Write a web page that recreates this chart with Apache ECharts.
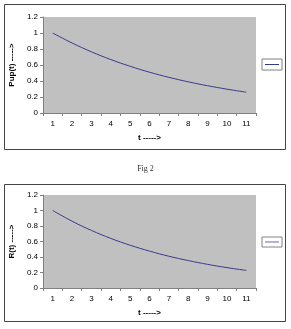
<!DOCTYPE html>
<html>
<head>
<meta charset="utf-8">
<script src="https://cdn.jsdelivr.net/npm/echarts@6/dist/echarts.min.js"></script>
<style>
  html, body { margin: 0; padding: 0; background: #fff; }
  #chart { width: 291px; height: 329px; }
</style>
</head>
<body>
<div id="chart"></div>
<script>
// data
const tLabels = ['1', '2', '3', '4', '5', '6', '7', '8', '9', '10', '11']
const pupValues = [1.0, 0.875, 0.765, 0.668, 0.584, 0.51, 0.446, 0.39, 0.341, 0.298, 0.26]
const rValues = [1.0, 0.862, 0.743, 0.64, 0.552, 0.476, 0.41, 0.354, 0.305, 0.263, 0.227]

const lineColor = '#3a3a8c'
const labelFont = { fontFamily: 'Liberation Sans', fontSize: 8, color: '#000' }
const axisGray = '#808080'

const makeX = (idx) => ({
  type: 'category',
  gridIndex: idx,
  data: tLabels,
  boundaryGap: true,
  name: 't ----->',
  nameLocation: 'middle',
  nameGap: 21,
  nameTextStyle: { fontFamily: 'Liberation Sans', fontSize: 8, fontWeight: 'bold', color: '#000' },
  axisLine: { lineStyle: { color: axisGray } },
  axisTick: { show: true, alignWithLabel: false, length: 3, lineStyle: { color: axisGray } },
  axisLabel: Object.assign({ margin: 7 }, labelFont),
  splitLine: { show: false }
})

const makeY = (idx, title) => ({
  type: 'value',
  gridIndex: idx,
  min: 0,
  max: 1.2,
  interval: 0.2,
  name: title,
  nameLocation: 'middle',
  nameGap: 22,
  nameTextStyle: { fontFamily: 'Liberation Sans', fontSize: 8, fontWeight: 'bold', color: '#000' },
  axisLine: { show: true, lineStyle: { color: axisGray } },
  axisTick: { show: true, length: 3, lineStyle: { color: axisGray } },
  axisLabel: Object.assign({ margin: 5, formatter: (v) => String(+v.toFixed(1)) }, labelFont),
  splitLine: { show: false }
})

const chart = echarts.init(document.getElementById('chart'), null, { renderer: 'canvas' })

chart.setOption({
  animation: false,
  backgroundColor: '#fff',
  grid: [
    { left: 41, right: 35, top: 17, height: 96, show: true, backgroundColor: '#c0c0c0', borderWidth: 0 },
    { left: 41, right: 35, top: 195, height: 93, show: true, backgroundColor: '#c0c0c0', borderWidth: 0 }
  ],
  xAxis: [makeX(0), makeX(1)],
  yAxis: [makeY(0, 'Pup(t) ----->'), makeY(1, 'R(t) ----->')],
  legend: [
    {
      data: ['Pup'], left: 262, top: 59, orient: 'vertical',
      padding: [5, 3, 5, 3], borderColor: '#808080', borderWidth: 1,
      icon: 'rect', itemWidth: 14, itemHeight: 1, itemGap: 0,
      formatter: () => '', textStyle: { fontSize: 1 },
      itemStyle: { color: lineColor }
    },
    {
      data: ['R'], left: 262, top: 237, orient: 'vertical',
      padding: [4, 3, 4, 3], borderColor: '#808080', borderWidth: 1,
      icon: 'rect', itemWidth: 14, itemHeight: 2, itemGap: 0,
      formatter: () => '', textStyle: { fontSize: 1 },
      itemStyle: { color: '#b4b4d8' }
    }
  ],
  graphic: [
    { type: 'rect', shape: { x: 4.5, y: 4.5, width: 281, height: 145 }, style: { fill: 'none', stroke: '#444', lineWidth: 1 }, z: -1 },
    { type: 'rect', shape: { x: 4.5, y: 184.5, width: 281, height: 137 }, style: { fill: 'none', stroke: '#444', lineWidth: 1 }, z: -1 },
    { type: 'text', left: 'center', top: 165, style: { text: 'Fig 2', fontFamily: 'Liberation Serif', fontSize: 8, fill: '#333' } }
  ],
  series: [
    {
      name: 'Pup', type: 'line', xAxisIndex: 0, yAxisIndex: 0, data: pupValues,
      smooth: 0.4, showSymbol: false,
      lineStyle: { color: lineColor, width: 1 }, itemStyle: { color: lineColor }
    },
    {
      name: 'R', type: 'line', xAxisIndex: 1, yAxisIndex: 1, data: rValues,
      smooth: 0.4, showSymbol: false,
      lineStyle: { color: lineColor, width: 1 }, itemStyle: { color: lineColor }
    }
  ]
})
</script>
</body>
</html>
